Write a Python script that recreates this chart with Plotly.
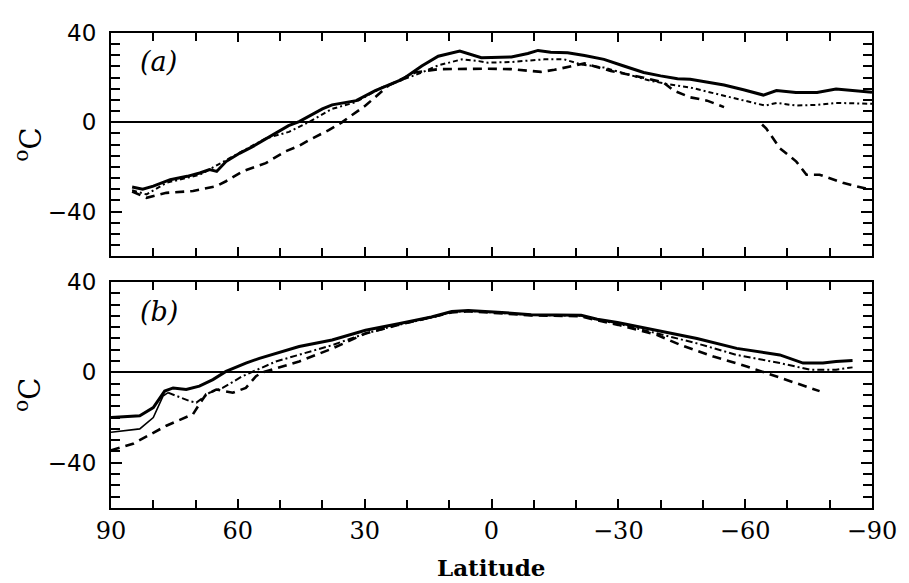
import plotly.graph_objects as go

# ---------------- Panel (a) ----------------
a_solid_lat = [85, 82.5, 80, 76, 72, 69, 66.7, 65, 62.8, 59.6, 56.5, 51.8, 48, 45.5, 43, 40, 37.7, 32,
               27.5, 21, 16.5, 12.6, 7.5, 2.4, 0, -4.7, -8.6, -11, -14, -18, -22, -26.6, -31.3, -36,
               -40, -44, -47, -55, -59.6, -64.3, -67.4, -72, -77, -81.5, -90]
a_solid_val = [-29, -30, -28.6, -25.7, -24.2, -22.7, -21.2, -22, -17.6, -13.9, -10.9, -5.8, -1.5, 0.3,
               3, 6, 7.8, 9.7, 14.2, 19.3, 25.2, 29.6, 31.9, 28.9, 29, 29.3, 30.8, 32.2, 31.4, 31.1,
               29.9, 28.2, 25.2, 22.3, 20.8, 19.5, 19.3, 16.7, 14.6, 12.2, 14.2, 13.4, 13.4, 14.9, 13.4]

a_dot_lat = [85, 81.6, 76.9, 69, 61.2, 53.4, 47.9, 45.5, 43.2, 37.7, 32.2, 25.9, 16.5, 12.6, 7, 3, 0.8,
             -4.6, -12.5, -17.2, -21, -26.6, -32, -37.6, -42, -47, -55, -59.6, -64.7, -67.5, -72,
             -77, -81.5, -90]
a_dot_val = [-30.4, -32.3, -27.1, -23.5, -15.3, -7.2, -4.3, -2.1, 0.1, 6, 9, 15.6, 22.3, 25.5, 28.2,
             27.4, 26.7, 27, 28.2, 28.2, 26, 24.5, 21.5, 18.6, 17, 15.6, 11.9, 9.7, 7.5, 8.7, 7.5,
             7.8, 8.7, 8.3]

a_dash_lat = [85, 81.6, 76.9, 70.6, 65.1, 62.8, 58.9, 53.4, 48.7, 45.5, 43.2, 38.5, 35.4, 29.8, 24.4,
              18.1, 12.6, 7.2, 0.8, -4.6, -11.7, -14.9, -20.4, -22, -28.2, -36, -40.7, -43.1, -47,
              -51, -55, -60, -64, -65, -68.2, -72.1, -74.5, -77.6, -83.1, -89.4]
a_dash_val = [-31, -33.8, -31.6, -30.8, -28.6, -26.4, -22, -18.3, -13, -10.5, -8, -3.5, 0, 7.5, 16.4,
              22.3, 23.8, 24, 24, 23.8, 22.6, 23.5, 25.5, 26.4, 23, 20, 17.8, 14.2, 11.2, 9.7, 6.8,
              None, -1, -2.8, -11.6, -17.6, -23.5, -23.5, -27.1, -30.1]

# ---------------- Panel (b) ----------------
b_solid_lat = [90, 83.2, 80, 77.3, 75.3, 72.2, 69.1, 65.9, 62.8, 58.1, 54.9, 45.5, 37.7, 29.8, 22,
               14.2, 9.4, 5.5, -1.5, -9.4, -21.2, -25, -29.8, -36.8, -48.6, -58, -68.2, -73.7,
               -78.4, -81.5, -85.4]
b_solid_val = [-20, -19.2, -15.6, -8.3, -6.9, -7.6, -6.1, -3.2, 0.4, 4.1, 6.2, 11.4, 14.3, 18.6, 21.5,
               24.5, 26.9, 27.4, 26.6, 25.5, 25.2, 23.5, 22, 19.3, 15, 10.6, 7.7, 4.1, 4.1, 4.8, 5.2]

b_dd_lat = [90, 83.2, 80, 77.7, 76.5, 74.5, 71.4, 69.8, 66.7, 63.6, 58.9, 51, 45.5, 37.7, 29.8, 22,
            14, 9.4, 5.5, -1.5, -9.4, -21.2, -25, -30, -39.2, -48.6, -58, -68.2, -75.3, -81.5, -85.4]
b_dd_val = [-26.5, -25, -20, -10.5, -9, -10.5, -12.7, -13.4, -9, -6.9, -1.7, 4.8, 7.7, 12, 17.2, 21,
            24.3, 26.7, 27.2, 26.5, 25.4, 25, 23.2, 21.5, 17.2, 12.8, 7.7, 4.1, 1.2, 1.2, 2.2]
b_thin_n = 5  # polar part of this series drawn as thin solid line

b_dash_lat = [90, 84.8, 76.9, 70.6, 69.1, 67.5, 65.1, 61.2, 58.1, 55.7, 54.2, 45.5, 37.7, 29.8, 22,
              14, 9.4, 5.5, -1.5, -9.4, -21.2, -25, -30, -39.2, -44.7, -52.5, -60.4, -68.2, -77.6]
b_dash_val = [-34.5, -31.6, -23.6, -18.5, -14.1, -9.7, -7.6, -9, -6.9, -1.7, 0, 4.8, 10.5, 17.2, 21,
              24.3, 26.5, 27, 26.3, 25.2, 24.8, 23, 21, 16.5, 12.1, 7, 2.6, -2.5, -8.3]

x_tickvals = [90, 60, 30, 0, -30, -60, -90]
y_tickvals = [-40, 0, 40]

SERIF = "DejaVu Serif"
SANS = "DejaVu Sans"

fig = go.Figure()

def add(x, y, xa, ya, width, dash):
    fig.add_trace(go.Scatter(x=x, y=y, xaxis=xa, yaxis=ya, mode="lines",
                             line=dict(color="black", width=width, dash=dash),
                             connectgaps=False, showlegend=False, hoverinfo="skip"))

add(a_solid_lat, a_solid_val, "x", "y", 3.0, "solid")
add(a_dot_lat, a_dot_val, "x", "y", 2.0, "5px,3px,2px,3px")
add(a_dash_lat, a_dash_val, "x", "y", 2.6, "9px,6px")

add(b_solid_lat, b_solid_val, "x2", "y2", 3.0, "solid")
add(b_dd_lat[:b_thin_n], b_dd_val[:b_thin_n], "x2", "y2", 1.6, "solid")
add(b_dd_lat[b_thin_n - 1:], b_dd_val[b_thin_n - 1:], "x2", "y2", 2.0, "7px,3px,2px,3px")
add(b_dash_lat, b_dash_val, "x2", "y2", 2.6, "9px,6px")

def xaxis(domain_anchor, show_labels):
    return dict(
        anchor=domain_anchor, domain=[0, 1], range=[90, -90],
        tickmode="array", tickvals=x_tickvals, showticklabels=show_labels,
        ticks="inside", ticklen=9, tickwidth=1.5, tickcolor="black",
        minor=dict(tickmode="linear", tick0=0, dtick=10, ticks="inside", ticklen=8,
                   tickwidth=1.5, tickcolor="black", showgrid=False),
        showline=True, linecolor="black", linewidth=2, mirror="ticks",
        showgrid=False, zeroline=False,
        tickfont=dict(family=SERIF, size=24, color="black"),
        ticklabelstandoff=0,
    )

def yaxis(domain, anchor):
    return dict(
        anchor=anchor, domain=domain, range=[-60, 40],
        tickmode="array", tickvals=y_tickvals,
        ticks="inside", ticklen=11, tickwidth=1.5, tickcolor="black",
        minor=dict(tickmode="linear", tick0=0, dtick=5, ticks="inside", ticklen=9,
                   tickwidth=1.5, tickcolor="black", showgrid=False),
        showline=True, linecolor="black", linewidth=2, mirror="ticks",
        showgrid=False, zeroline=True, zerolinecolor="black", zerolinewidth=2,
        tickfont=dict(family=SANS, size=23, color="black"),
        ticklabelstandoff=8,
    )

# The page body has an 8px margin, so the figure is sized/margined to land the
# plot frame at the reference's pixel positions.
fig.update_layout(
    width=901, height=575,
    margin=dict(l=103, r=33, t=19, b=75),
    paper_bgcolor="white", plot_bgcolor="white",
    xaxis=xaxis("y", False),
    yaxis=yaxis([0.530, 1.0], "x"),
    xaxis2=xaxis("y2", True),
    yaxis2=yaxis([0.0, 0.476], "x2"),
    showlegend=False,
)

annotations = [
    dict(text="<i>(a)</i>", xref="x domain", yref="y domain", x=0.062, y=0.872,
         xanchor="center", yanchor="middle",
         showarrow=False, font=dict(family=SERIF, size=27, color="black")),
    dict(text="<i>(b)</i>", xref="x2 domain", yref="y2 domain", x=0.063, y=0.869,
         xanchor="center", yanchor="middle",
         showarrow=False, font=dict(family=SERIF, size=27, color="black")),
    dict(text="<sup>o</sup>C", xref="paper", yref="y domain", x=0, y=0.5, xshift=-83,
         xanchor="center", yanchor="middle",
         textangle=-90, showarrow=False, font=dict(family=SERIF, size=29, color="black")),
    dict(text="<sup>o</sup>C", xref="paper", yref="y2 domain", x=0, y=0.5, xshift=-83,
         xanchor="center", yanchor="middle",
         textangle=-90, showarrow=False, font=dict(family=SERIF, size=29, color="black")),
    dict(text="<b>Latitude</b>", xref="paper", yref="paper", x=0.5, y=0, yshift=-59,
         xanchor="center", yanchor="middle",
         showarrow=False, font=dict(family=SERIF, size=23, color="black")),
]
fig.update_layout(annotations=annotations)

fig.write_html("out.html")
